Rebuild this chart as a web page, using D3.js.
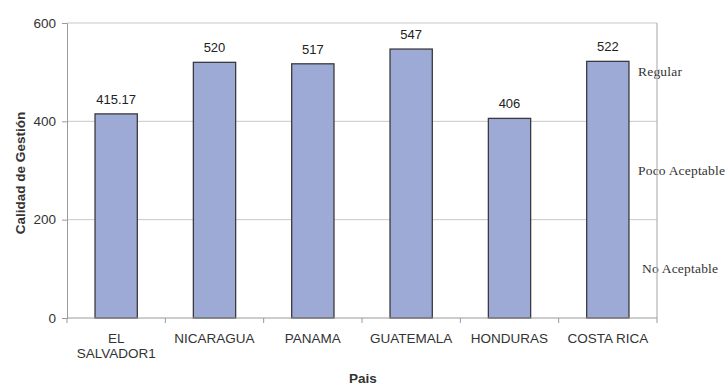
<!DOCTYPE html>
<html>
<head>
<meta charset="utf-8">
<script src="https://cdn.jsdelivr.net/npm/d3@7"></script>
<style>
  html, body { margin: 0; padding: 0; background: #fff; }
  svg { display: block; }
</style>
</head>
<body>
<svg id="chart" width="727" height="385"></svg>
<script>
// Management quality score per country
const countries = ["EL SALVADOR1", "NICARAGUA", "PANAMA", "GUATEMALA", "HONDURAS", "COSTA RICA"];
const scores = [415.17, 520, 517, 547, 406, 522];
const scoreLabels = ["415.17", "520", "517", "547", "406", "522"];
const yTicks = [0, 200, 400, 600];
// Qualitative bands shown on the right side
const bandNames = ["Regular", "Poco Aceptable", "No Aceptable"];
const bandMids = [500, 300, 100];

(function () {
const svg = d3.select("#chart");
const plotL = 67, plotR = 657, plotT = 23, plotB = 318;
const sans = "Liberation Sans, Arial, sans-serif";

const x = d3.scaleBand().domain(countries).range([plotL, plotR]).paddingInner(0.57).paddingOuter(0.285);
const xBounds = d3.scaleBand().domain(countries).range([plotL, plotR]).padding(0);
const y = d3.scaleLinear().domain([0, 600]).range([plotB, plotT]);

// gridlines
svg.append("g").selectAll("line").data(yTicks.filter(d => d > 0)).join("line")
  .attr("x1", plotL).attr("x2", plotR)
  .attr("y1", d => y(d)).attr("y2", d => y(d))
  .attr("stroke", "#c8c8c8").attr("stroke-width", 1);

// band labels (serif), centred vertically in each band
svg.append("g").selectAll("text").data(bandNames).join("text")
  .attr("x", (d, i) => i === 2 ? 642 : 638)
  .attr("y", (d, i) => y(bandMids[i]))
  .attr("dy", "0.3em")
  .attr("font-family", "Liberation Serif, Times New Roman, serif")
  .attr("font-size", 13.5)
  .attr("letter-spacing", 0.2)
  .attr("fill", "#333")
  .text(d => d);

// right frame line
svg.append("line")
  .attr("x1", plotR).attr("x2", plotR).attr("y1", plotT).attr("y2", plotB)
  .attr("stroke", "#b4b4b4").attr("stroke-width", 1.2);

// bars
svg.append("g").selectAll("rect").data(countries).join("rect")
  .attr("x", d => x(d))
  .attr("width", x.bandwidth())
  .attr("y", (d, i) => y(scores[i]))
  .attr("height", (d, i) => y(0) - y(scores[i]))
  .attr("fill", "#9daad6")
  .attr("stroke", "#3a3a40").attr("stroke-width", 1.3);

// value labels
svg.append("g").selectAll("text").data(countries).join("text")
  .attr("x", d => x(d) + x.bandwidth() / 2)
  .attr("y", (d, i) => y(scores[i]) - 10)
  .attr("text-anchor", "middle")
  .attr("font-family", sans)
  .attr("font-size", 13)
  .attr("fill", "#222")
  .text((d, i) => scoreLabels[i]);

// y axis
const yAxis = svg.append("g").attr("transform", `translate(${plotL},0)`)
  .call(d3.axisLeft(y).tickValues(yTicks).tickSize(5).tickPadding(6));
yAxis.select(".domain").attr("stroke", "#9a9a9a");
yAxis.selectAll(".tick line").attr("stroke", "#9a9a9a");
yAxis.selectAll("text").attr("font-family", sans)
  .attr("font-size", 13.5).attr("fill", "#333");

// x axis baseline and boundary ticks
svg.append("line").attr("x1", plotL).attr("x2", plotR).attr("y1", plotB).attr("y2", plotB)
  .attr("stroke", "#9a9a9a");
svg.append("g").selectAll("line").data(countries.concat(["end"])).join("line")
  .attr("x1", (d, i) => i < countries.length ? xBounds(d) : plotR)
  .attr("x2", (d, i) => i < countries.length ? xBounds(d) : plotR)
  .attr("y1", plotB).attr("y2", plotB + 5)
  .attr("stroke", "#9a9a9a");

// category labels (EL SALVADOR1 wraps onto two lines)
const cat = svg.append("g").selectAll("text").data(countries).join("text")
  .attr("x", d => x(d) + x.bandwidth() / 2)
  .attr("y", 343)
  .attr("text-anchor", "middle")
  .attr("font-family", sans)
  .attr("font-size", 13.5)
  .attr("fill", "#333");
cat.each(function (d) {
  const lines = d === "EL SALVADOR1" ? ["EL", "SALVADOR1"] : [d];
  d3.select(this).selectAll("tspan").data(lines).join("tspan")
    .attr("x", x(d) + x.bandwidth() / 2)
    .attr("dy", (l, i) => i === 0 ? 0 : 15)
    .text(l => l);
});

// axis titles
svg.append("text")
  .attr("transform", `translate(25,173) rotate(-90)`)
  .attr("text-anchor", "middle")
  .attr("font-family", sans)
  .attr("font-size", 13.5).attr("font-weight", "bold").attr("fill", "#333")
  .text("Calidad de Gestión");
svg.append("text")
  .attr("x", 363).attr("y", 383)
  .attr("text-anchor", "middle")
  .attr("font-family", sans)
  .attr("font-size", 13.5).attr("font-weight", "bold").attr("fill", "#333")
  .text("Pais");
})();
</script>
</body>
</html>
